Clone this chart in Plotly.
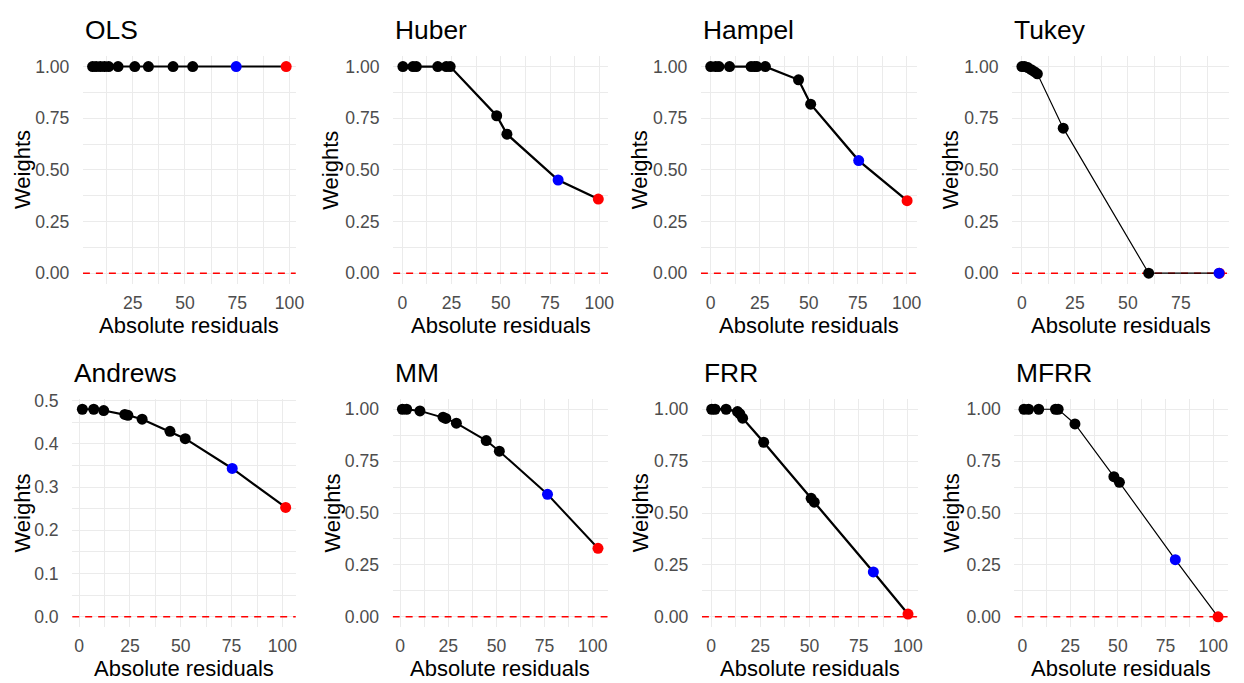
import plotly.graph_objects as go

# ---------------- data ----------------
methods = ["OLS", "Huber", "Hampel", "Tukey", "Andrews", "MM", "FRR", "MFRR"]

ols_x = [5.8, 7.5, 9.5, 11.5, 13.5, 18.0, 26.0, 32.5, 44.3, 53.7, 74.5, 98.4]
ols_y = [1.0, 1.0, 1.0, 1.0, 1.0, 1.0, 1.0, 1.0, 1.0, 1.0, 1.0, 1.0]

huber_x = [0.3, 5.4, 7.1, 18.0, 22.3, 24.3, 47.9, 53.1, 79.1, 99.5]
huber_y = [1.0, 1.0, 1.0, 1.0, 1.0, 1.0, 0.762, 0.673, 0.451, 0.359]

hampel_x = [0.0, 2.5, 4.2, 9.6, 20.6, 22.3, 23.6, 27.9, 44.8, 51.0, 75.5, 100.2]
hampel_y = [1.0, 1.0, 1.0, 1.0, 1.0, 1.0, 1.0, 1.0, 0.936, 0.818, 0.545, 0.351]

tukey_x = [0.0, 1.25, 2.8, 4.4, 5.9, 7.3, 19.5, 59.8, 93.0, 93.2]
tukey_y = [1.0, 1.0, 0.995, 0.985, 0.975, 0.965, 0.702, 0.0, 0.0, 0.0]

andrews_x = [1.6, 7.2, 12.1, 22.5, 24.0, 31.0, 44.7, 52.2, 75.3, 101.6]
andrews_y = [0.480, 0.480, 0.477, 0.468, 0.466, 0.457, 0.429, 0.412, 0.343, 0.253]

mm_x = [1.2, 3.4, 10.3, 22.3, 23.7, 29.2, 44.7, 51.5, 76.5, 102.7]
mm_y = [1.0, 1.0, 0.992, 0.962, 0.956, 0.933, 0.849, 0.798, 0.590, 0.330]

frr_x = [0.3, 2.0, 7.6, 13.4, 14.6, 16.0, 26.7, 50.8, 52.4, 82.4, 100.0]
frr_y = [1.0, 1.0, 1.0, 0.989, 0.978, 0.957, 0.841, 0.571, 0.552, 0.216, 0.013]

mfrr_x = [0.8, 3.2, 8.5, 17.3, 18.7, 27.5, 47.9, 50.8, 80.1, 102.5]
mfrr_y = [1.0, 1.0, 1.0, 1.0, 1.0, 0.929, 0.675, 0.648, 0.275, 0.0]

series = [
    (ols_x, ols_y), (huber_x, huber_y), (hampel_x, hampel_y), (tukey_x, tukey_y),
    (andrews_x, andrews_y), (mm_x, mm_y), (frr_x, frr_y), (mfrr_x, mfrr_y),
]

x_ticks = [0, 25, 50, 75, 100]
y_ticks_unit = [0, 0.25, 0.5, 0.75, 1.0]
y_ticks_andrews = [0, 0.1, 0.2, 0.3, 0.4, 0.5]
ref_level = 0.0  # dashed reference line

# ---------------- layout geometry (pixels) ----------------
W, H = 1244, 683
panels_px = [  # left, right, top, bottom
    (83.5, 298.0, 48.8, 278.8),
    (396.0, 612.5, 48.8, 278.8),
    (706.0, 923.6, 48.8, 278.8),
    (1019.4, 1238.3, 48.8, 278.8),
    (72.7, 298.0, 395.5, 626.5),
    (395.5, 612.2, 395.5, 626.5),
    (707.0, 924.5, 395.5, 626.5),
    (1021.7, 1236.7, 395.5, 626.5),
]
ylab_x_px = [23.3, 333.3, 645.0, 958.3, 21.7, 334.0, 645.0, 958.3]
line_widths = [2.0, 2.3, 2.3, 1.2, 2.2, 2.0, 2.3, 1.2]

FONT = "Liberation Sans, Arial, sans-serif"
GRID = "#EBEBEB"
TICKCOL = "#4D4D4D"

fig = go.Figure()
annotations = []
layout = dict(
    width=W, height=H, margin=dict(l=0, r=0, t=0, b=0),
    paper_bgcolor="white", plot_bgcolor="white", showlegend=False,
    font=dict(family=FONT, color="black"),
)


def expand(lo, hi, frac=0.05):
    span = hi - lo
    return [lo - frac * span, hi + frac * span]


for i, (name, (xs, ys)) in enumerate(zip(methods, series)):
    k = i + 1
    xa = "x" if k == 1 else f"x{k}"
    ya = "y" if k == 1 else f"y{k}"
    l, r, t, b = panels_px[i]

    xr = expand(min(xs), max(xs))
    yr = expand(min(min(ys), ref_level), max(max(ys), ref_level))

    # dashed reference line at 0 across the whole panel
    fig.add_trace(go.Scatter(x=xr, y=[ref_level, ref_level], mode="lines",
                             line=dict(color="red", width=1.4, dash="7px,6px"),
                             xaxis=xa, yaxis=ya, hoverinfo="skip"))

    order = sorted(range(len(xs)), key=lambda j: xs[j])
    red_j = order[-1]
    blue_j = order[-2]
    blk = [j for j in order if j not in (red_j, blue_j)]

    fig.add_trace(go.Scatter(x=[xs[j] for j in order], y=[ys[j] for j in order],
                             mode="lines", line=dict(color="black", width=line_widths[i]),
                             xaxis=xa, yaxis=ya, hoverinfo="skip"))
    fig.add_trace(go.Scatter(x=[xs[j] for j in blk], y=[ys[j] for j in blk],
                             mode="markers", marker=dict(color="black", size=11),
                             xaxis=xa, yaxis=ya))
    fig.add_trace(go.Scatter(x=[xs[red_j]], y=[ys[red_j]], mode="markers",
                             marker=dict(color="red", size=11), xaxis=xa, yaxis=ya))
    fig.add_trace(go.Scatter(x=[xs[blue_j]], y=[ys[blue_j]], mode="markers",
                             marker=dict(color="blue", size=11), xaxis=xa, yaxis=ya))

    andrews = name == "Andrews"
    yt = y_ticks_andrews if andrews else y_ticks_unit

    axis_common = dict(
        showline=False, zeroline=False, showgrid=True, gridcolor=GRID, gridwidth=1.3,
        ticks="outside", tickcolor="rgba(0,0,0,0)",
        tickfont=dict(family=FONT, size=17.6, color=TICKCOL),
    )
    layout["xaxis" if k == 1 else f"xaxis{k}"] = dict(
        axis_common, domain=[l / W, r / W], range=xr, anchor=ya,
        tickmode="array", tickvals=x_ticks, ticklen=3,
        minor=dict(tickmode="linear", tick0=0, dtick=12.5, showgrid=True,
                   gridcolor=GRID, gridwidth=0.7, ticks=""),
    )
    layout["yaxis" if k == 1 else f"yaxis{k}"] = dict(
        axis_common, domain=[1 - b / H, 1 - t / H], range=yr, anchor=xa,
        tickmode="array", tickvals=yt, tickformat=".1f" if andrews else ".2f", ticklen=9,
        minor=dict(tickmode="linear", tick0=0, dtick=0.05 if andrews else 0.125,
                   showgrid=True, gridcolor=GRID, gridwidth=0.7, ticks=""),
    )

    title_y = 22.0 if k <= 4 else 369.7
    annotations.append(dict(text=name, x=l / W, y=1 - title_y / H, xref="paper", yref="paper",
                            xanchor="left", yanchor="middle", showarrow=False,
                            font=dict(family=FONT, size=26.4, color="black")))
    annotations.append(dict(text="Weights", x=ylab_x_px[i] / W, y=1 - ((t + b) / 2) / H,
                            xref="paper", yref="paper", xanchor="center", yanchor="middle",
                            textangle=-90, showarrow=False,
                            font=dict(family=FONT, size=22, color="black")))
    xt_y = 321.5 if k <= 4 else 668.5
    annotations.append(dict(text="Absolute residuals", x=((l + r) / 2) / W, y=1 - xt_y / H,
                            xref="paper", yref="paper", xanchor="center", yanchor="middle",
                            showarrow=False, font=dict(family=FONT, size=22, color="black")))

layout["annotations"] = annotations
fig.update_layout(**layout)
fig.write_html(
    "out.html",
    config={"displayModeBar": False},
    post_script="document.body.style.margin='0';document.body.style.padding='0';",
)
